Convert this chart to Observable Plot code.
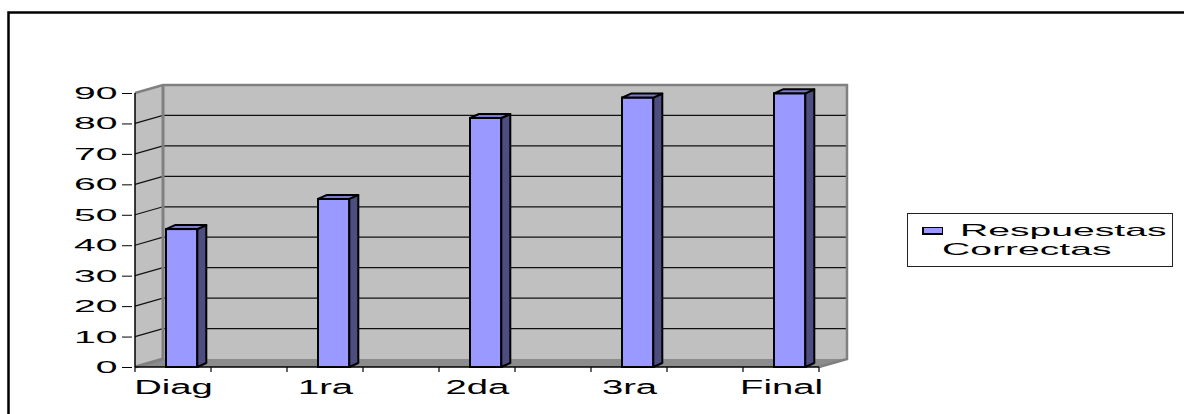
<!DOCTYPE html>
<html><head><meta charset="utf-8">
<script src="https://cdn.jsdelivr.net/npm/d3@7"></script>
<script src="https://cdn.jsdelivr.net/npm/@observablehq/plot@0.6"></script>
<style>
html,body{margin:0;padding:0;background:#fff;}
#wrap{position:relative;width:1184px;height:414px;overflow:hidden;}
#legend{position:absolute;left:907px;top:213px;width:266px;height:54px;border:1px solid #222;box-sizing:border-box;background:#fff;font-family:"Liberation Sans",Arial,sans-serif;font-size:17px;color:#000;}
.lt{position:absolute;white-space:nowrap;transform-origin:0 0;transform:scaleX(2.3);line-height:1;}
#sw{position:absolute;left:14px;top:13px;width:21px;height:8px;background:#9999ff;border:2px solid #000;border-right-width:1px;border-top-width:1px;box-sizing:border-box;}
</style></head>
<body>
<div id="wrap"></div>
<script>
const categories = ["Diag", "1ra", "2da", "3ra", "Final"];
const values = [45.3, 55.2, 81.8, 88.5, 89.9];
const yTicks = [0, 10, 20, 30, 40, 50, 60, 70, 80, 90];
const seriesLabel = ["Respuestas", "Correctas"];

// category slots: each category followed by an empty column (as in the source chart)
const slots = [];
categories.forEach((c, i) => { slots.push(c); if (i < categories.length - 1) slots.push("gap" + i); });
const data = categories.map((c, i) => ({cat: c, value: values[i]}));

const DX = 28, DY = -8, BDX = 9, BDY = -4, INL = 31, INR = 13.7;

function bandW(sx, dims) {
  return typeof sx.bandwidth === "function" ? sx.bandwidth() : (dims.width - dims.marginLeft - dims.marginRight) / slots.length;
}

function walls(index, scales, vals, dims) {
  const sx = scales.x, sy = scales.y, bw = bandW(sx, dims);
  const x0 = sx(slots[0]), x1 = sx(slots[slots.length - 1]) + bw;
  const yb = sy(0), yt = sy(yTicks[yTicks.length - 1]);
  const g = d3.create("svg:g");
  g.append("rect").attr("x", 8.5).attr("y", 12.5).attr("width", dims.width).attr("height", dims.height)
    .attr("fill", "none").attr("stroke", "#000").attr("stroke-width", 2.5);
  g.append("rect").attr("x", x0 + DX).attr("y", yt + DY).attr("width", x1 - x0).attr("height", yb - yt).attr("fill", "#c0c0c0");
  g.append("path").attr("d", `M${x0},${yt}L${x0 + DX},${yt + DY}L${x0 + DX},${yb + DY}L${x0},${yb}Z`).attr("fill", "#c0c0c0");
  g.append("path").attr("d", `M${x0},${yb}L${x1},${yb}L${x1 + DX},${yb + DY}L${x0 + DX},${yb + DY}Z`).attr("fill", "#8c8c8c");
  for (const v of yTicks.slice(1, -1)) {
    const y = sy(v);
    g.append("path").attr("d", `M${x0},${y}L${x0 + DX},${y + DY}L${x1 + DX},${y + DY}`)
      .attr("fill", "none").attr("stroke", "#111").attr("stroke-width", 1.2);
  }
  g.append("path").attr("d", `M${x0},${yt}L${x0 + DX},${yt + DY}L${x1 + DX},${yt + DY}L${x1 + DX},${yb + DY}L${x1},${yb}`)
    .attr("fill", "none").attr("stroke", "#808080").attr("stroke-width", 2.5);
  g.append("path").attr("d", `M${x0 + DX},${yt + DY}L${x0 + DX},${yb + DY}M${x0},${yb}L${x0 + DX},${yb + DY}`)
    .attr("fill", "none").attr("stroke", "#808080").attr("stroke-width", 3);
  return g.node();
}

function faces(index, scales, vals, dims) {
  const sx = scales.x, sy = scales.y, bw = bandW(sx, dims);
  const g = d3.create("svg:g").attr("stroke", "#000").attr("stroke-width", 2).attr("stroke-linejoin", "round");
  data.forEach(d => {
    const xa = sx(d.cat) + INL, xb = sx(d.cat) + bw - INR;
    const yv = sy(d.value), y0 = sy(0);
    g.append("path").attr("fill", "#4d4d80")
      .attr("d", `M${xb},${y0}L${xb + BDX},${y0 + BDY}L${xb + BDX},${yv + BDY}L${xb},${yv}Z`);
    g.append("path").attr("fill", "#7a7ad0")
      .attr("d", `M${xa},${yv}L${xa + BDX},${yv + BDY}L${xb + BDX},${yv + BDY}L${xb},${yv}Z`);
  });
  return g.node();
}

function axisLines(index, scales, vals, dims) {
  const sx = scales.x, sy = scales.y, bw = bandW(sx, dims);
  const x0 = sx(slots[0]), x1 = sx(slots[slots.length - 1]) + bw;
  const yb = sy(0), yt = sy(yTicks[yTicks.length - 1]);
  const g = d3.create("svg:g").attr("stroke", "#000").attr("fill", "none");
  g.append("path").attr("d", `M${x0},${yt}L${x0},${yb}`).attr("stroke-width", 1.5);
  g.append("path").attr("d", `M${x0},${yb}L${x1},${yb}`).attr("stroke-width", 1.5);
  for (let k = 0; k <= slots.length; k++) {
    const x = x0 + k * bw;
    g.append("path").attr("d", `M${x},${yb}L${x},${yb + 5}`).attr("stroke-width", 1.2);
  }
  return g.node();
}

const chart = Plot.plot({
  width: 1184,
  height: 414,
  marginLeft: 132,
  marginRight: 362,
  marginTop: 93,
  marginBottom: 47,
  style: {fontFamily: "'Liberation Sans', Arial, sans-serif", background: "white", color: "#000"},
  x: {type: "band", domain: slots, padding: 0, axis: null},
  y: {domain: [0, 90], axis: null},
  marks: [
    walls,
    Plot.barY(data, {x: "cat", y: "value", fill: "#9999ff", stroke: "#000", strokeWidth: 2, insetLeft: INL, insetRight: INR}),
    faces,
    axisLines,
    Plot.axisY({ticks: yTicks, tickSize: 10, tickPadding: 5, fontSize: 17, label: null, tickFormat: d => String(d)}),
    Plot.axisX({ticks: categories, tickSize: 0, tickPadding: 12, fontSize: 21, label: null})
  ]
});

function stretch(t, k) {
  const tr = t.getAttribute("transform") || "";
  const x = +t.getAttribute("x") || 0;
  t.setAttribute("transform", `${tr} translate(${x},0) scale(${k},1) translate(${-x},0)`);
}
chart.querySelectorAll("text").forEach(t => {
  const g = t.closest("g[aria-label]");
  const lab = g ? g.getAttribute("aria-label") : "";
  if (lab.includes("y-axis")) stretch(t, 2.3);
  else if (lab.includes("x-axis")) stretch(t, 1.82);
});

const wrap = document.getElementById("wrap");
wrap.appendChild(chart);
const legend = document.createElement("div");
legend.id = "legend";
legend.innerHTML = `<div id="sw"></div><span class="lt" style="left:52px;top:8px">${seriesLabel[0]}</span><span class="lt" style="left:34px;top:27px">${seriesLabel[1]}</span>`;
wrap.appendChild(legend);
</script>
</body></html>
